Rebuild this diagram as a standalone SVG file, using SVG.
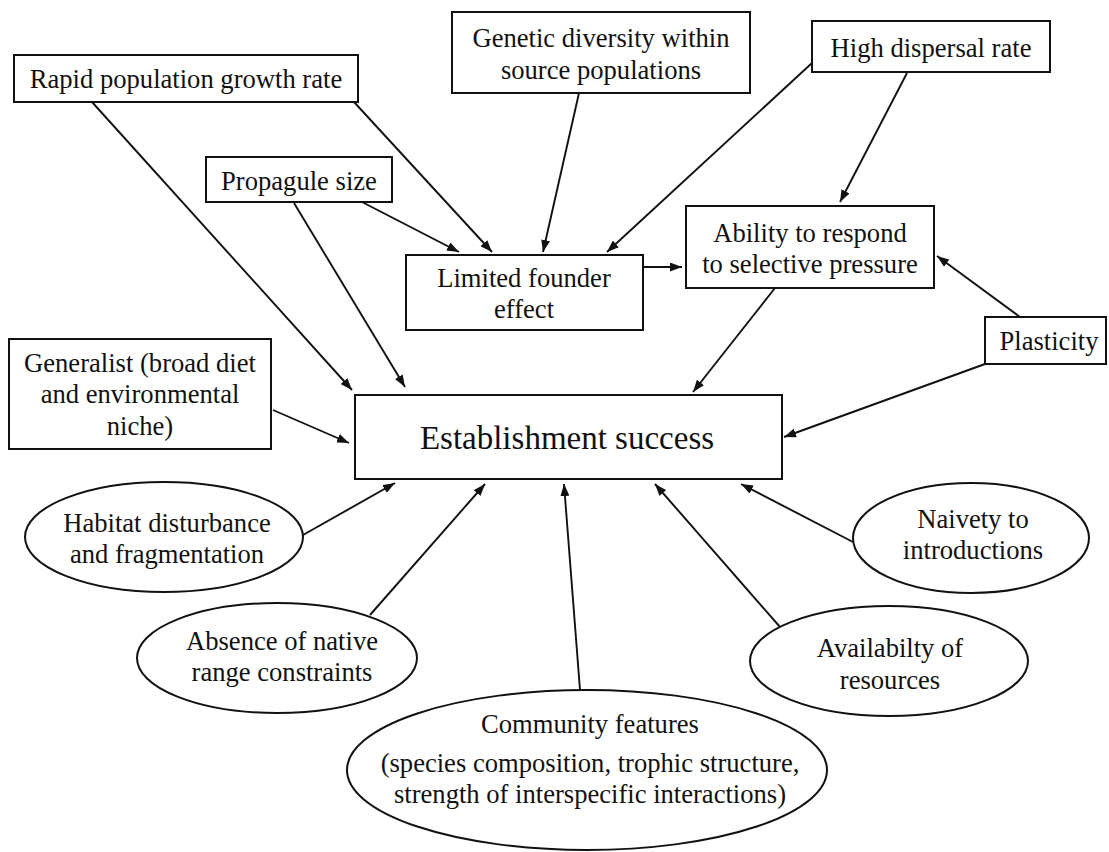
<svg xmlns="http://www.w3.org/2000/svg" width="1109" height="852" viewBox="0 0 1109 852">
<style>
.box{fill:#fff;stroke:#111;stroke-width:2}
.t{font-family:"Liberation Serif","Times New Roman","DejaVu Serif",serif;font-size:26.6px;fill:#111;text-anchor:middle}
.big{font-size:33px}
.c{stroke:#111;stroke-width:1.9;fill:none;marker-end:url(#ah)}
</style>
<defs>
<marker id="ah" markerUnits="userSpaceOnUse" markerWidth="12" markerHeight="9" refX="12" refY="4.5" orient="auto">
<path d="M0,0 L12,4.5 L0,9 Z" fill="#111"/>
</marker>
</defs>
<rect width="1109" height="852" fill="#fff"/>
<g id="connectors">
<line class="c" x1="92" y1="102" x2="352" y2="390"/>
<line class="c" x1="354" y1="102" x2="492" y2="252"/>
<line class="c" x1="362" y1="202" x2="459" y2="252"/>
<line class="c" x1="294" y1="203" x2="405" y2="387"/>
<line class="c" x1="579" y1="93" x2="543" y2="252"/>
<line class="c" x1="812" y1="63" x2="607" y2="252"/>
<line class="c" x1="907" y1="73" x2="840" y2="202"/>
<line class="c" x1="643" y1="267" x2="682" y2="267"/>
<line class="c" x1="1020" y1="317" x2="937" y2="256"/>
<line class="c" x1="775" y1="288" x2="693" y2="392"/>
<line class="c" x1="985" y1="364" x2="784" y2="437"/>
<line class="c" x1="273" y1="410" x2="349" y2="443"/>
<line class="c" x1="303" y1="535" x2="395" y2="483"/>
<line class="c" x1="370" y1="615" x2="485" y2="484"/>
<line class="c" x1="580" y1="690" x2="564" y2="484"/>
<line class="c" x1="780" y1="627" x2="655" y2="484"/>
<line class="c" x1="853" y1="542" x2="741" y2="484"/>
</g>
<g id="rapid"><rect class="box" x="14" y="55" width="344" height="47"/><text class="t" x="186" y="88">Rapid population growth rate</text></g>
<g id="genetic"><rect class="box" x="452" y="12" width="298" height="81"/><text class="t" x="601" y="47">Genetic diversity within</text><text class="t" x="601" y="79">source populations</text></g>
<g id="high"><rect class="box" x="812" y="21" width="238" height="51"/><text class="t" x="931" y="57">High dispersal rate</text></g>
<g id="propagule"><rect class="box" x="206" y="157" width="186" height="45"/><text class="t" x="299" y="190">Propagule size</text></g>
<g id="limited"><rect class="box" x="406" y="255" width="237" height="75"/><text class="t" x="524" y="287">Limited founder</text><text class="t" x="524" y="318">effect</text></g>
<g id="ability"><rect class="box" x="686" y="206" width="248" height="82"/><text class="t" x="810" y="242">Ability to respond</text><text class="t" x="810" y="273">to selective pressure</text></g>
<g id="plasticity"><rect class="box" x="985" y="317" width="121" height="47"/><text class="t" x="1049" y="350">Plasticity</text></g>
<g id="generalist"><rect class="box" x="9" y="339" width="262" height="110"/><text class="t" x="140" y="372">Generalist (broad diet</text><text class="t" x="140" y="403">and environmental</text><text class="t" x="140" y="435">niche)</text></g>
<g id="establishment"><rect class="box" x="355" y="395" width="427" height="84"/><text class="t big" x="567" y="449">Establishment success</text></g>
<g id="habitat"><ellipse class="box" cx="164" cy="537" rx="139" ry="55"/><text class="t" x="167" y="532">Habitat disturbance</text><text class="t" x="167" y="563">and fragmentation</text></g>
<g id="absence"><ellipse class="box" cx="277" cy="658" rx="140" ry="55"/><text class="t" x="282" y="650">Absence of native</text><text class="t" x="282" y="681">range constraints</text></g>
<g id="naivety"><ellipse class="box" cx="971" cy="538" rx="118" ry="55"/><text class="t" x="973" y="528">Naivety to</text><text class="t" x="973" y="559">introductions</text></g>
<g id="availability"><ellipse class="box" cx="889" cy="661" rx="139" ry="55"/><text class="t" x="890" y="657">Availabilty of</text><text class="t" x="890" y="689">resources</text></g>
<g id="community"><ellipse class="box" cx="587" cy="770" rx="240" ry="80"/><text class="t" x="590" y="733">Community features</text><text class="t" x="590" y="772">(species composition, trophic structure,</text><text class="t" x="590" y="803">strength of interspecific interactions)</text></g>
</svg>
